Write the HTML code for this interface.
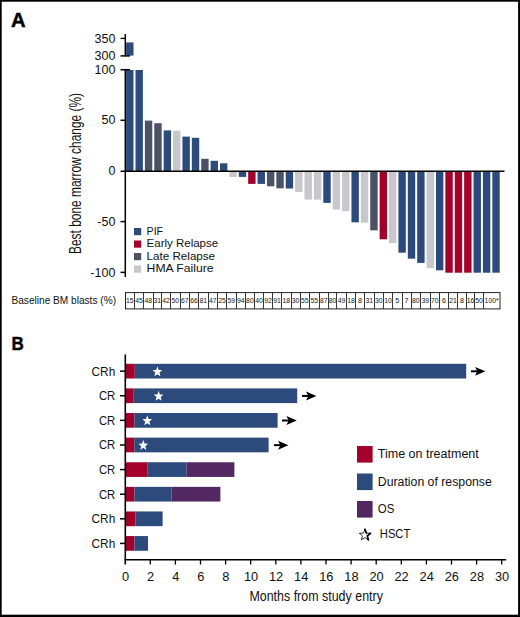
<!DOCTYPE html><html><head><meta charset="utf-8"><style>html,body{margin:0;padding:0;background:#fff}svg{display:block}text{font-family:"Liberation Sans",sans-serif;fill:#111}</style></head><body>
<svg width="520" height="617" viewBox="0 0 520 617">
<rect x="0" y="0" width="520" height="617" fill="#fff"/>
<rect x="0" y="0" width="520" height="1.7" fill="#000"/><rect x="0" y="0" width="1.7" height="617" fill="#000"/><rect x="518.1" y="0" width="1.9" height="617" fill="#000"/><rect x="0" y="614.7" width="520" height="2.3" fill="#000"/>
<text x="10.9" y="27" font-size="20.2" font-weight="bold" style="fill:#000;stroke:#000;stroke-width:0.5">A</text>
<text x="11.6" y="349.6" font-size="19.0" font-weight="bold" textLength="12.3" lengthAdjust="spacingAndGlyphs" style="fill:#000;stroke:#000;stroke-width:0.45">B</text>
<rect x="126.10" y="70.00" width="7.4" height="101.20" fill="#2c4a7c"/>
<rect x="135.49" y="70.00" width="7.4" height="101.20" fill="#2c4a7c"/>
<rect x="144.88" y="120.60" width="7.4" height="50.60" fill="#4b5266"/>
<rect x="154.27" y="123.20" width="7.4" height="48.00" fill="#4b5266"/>
<rect x="163.66" y="130.40" width="7.4" height="40.80" fill="#2c4a7c"/>
<rect x="173.05" y="130.80" width="7.4" height="40.40" fill="#c8c7cc"/>
<rect x="182.44" y="136.60" width="7.4" height="34.60" fill="#2c4a7c"/>
<rect x="191.83" y="137.80" width="7.4" height="33.40" fill="#2c4a7c"/>
<rect x="201.22" y="158.80" width="7.4" height="12.40" fill="#4b5266"/>
<rect x="210.61" y="160.80" width="7.4" height="10.40" fill="#2c4a7c"/>
<rect x="220.00" y="163.30" width="7.4" height="7.90" fill="#2c4a7c"/>
<rect x="229.39" y="171.20" width="7.4" height="5.80" fill="#c8c7cc"/>
<rect x="238.78" y="171.20" width="7.4" height="5.70" fill="#2c4a7c"/>
<rect x="248.17" y="171.20" width="7.4" height="12.70" fill="#a4002c"/>
<rect x="257.56" y="171.20" width="7.4" height="12.70" fill="#2c4a7c"/>
<rect x="266.95" y="171.20" width="7.4" height="15.10" fill="#4b5266"/>
<rect x="276.34" y="171.20" width="7.4" height="17.10" fill="#4b5266"/>
<rect x="285.73" y="171.20" width="7.4" height="17.30" fill="#2c4a7c"/>
<rect x="295.12" y="171.20" width="7.4" height="20.80" fill="#c8c7cc"/>
<rect x="304.51" y="171.20" width="7.4" height="28.40" fill="#c8c7cc"/>
<rect x="313.90" y="171.20" width="7.4" height="28.40" fill="#c8c7cc"/>
<rect x="323.29" y="171.20" width="7.4" height="31.70" fill="#2c4a7c"/>
<rect x="332.68" y="171.20" width="7.4" height="38.40" fill="#c8c7cc"/>
<rect x="342.07" y="171.20" width="7.4" height="40.00" fill="#c8c7cc"/>
<rect x="351.46" y="171.20" width="7.4" height="51.10" fill="#2c4a7c"/>
<rect x="360.85" y="171.20" width="7.4" height="51.40" fill="#c8c7cc"/>
<rect x="370.24" y="171.20" width="7.4" height="59.10" fill="#4b5266"/>
<rect x="379.63" y="171.20" width="7.4" height="68.10" fill="#a4002c"/>
<rect x="389.02" y="171.20" width="7.4" height="71.80" fill="#c8c7cc"/>
<rect x="398.41" y="171.20" width="7.4" height="81.50" fill="#2c4a7c"/>
<rect x="407.80" y="171.20" width="7.4" height="87.50" fill="#2c4a7c"/>
<rect x="417.19" y="171.20" width="7.4" height="91.70" fill="#2c4a7c"/>
<rect x="426.58" y="171.20" width="7.4" height="97.00" fill="#c8c7cc"/>
<rect x="435.97" y="171.20" width="7.4" height="99.10" fill="#2c4a7c"/>
<rect x="445.36" y="171.20" width="7.4" height="101.50" fill="#a4002c"/>
<rect x="454.75" y="171.20" width="7.4" height="101.50" fill="#a4002c"/>
<rect x="464.14" y="171.20" width="7.4" height="101.50" fill="#a4002c"/>
<rect x="473.53" y="171.20" width="7.4" height="101.50" fill="#2c4a7c"/>
<rect x="482.92" y="171.20" width="7.4" height="101.50" fill="#2c4a7c"/>
<rect x="492.31" y="171.20" width="7.4" height="101.50" fill="#2c4a7c"/>
<rect x="126.10" y="42.4" width="7.4" height="13.2" fill="#2c4a7c"/>
<g stroke="#000" stroke-width="1.5" fill="none">
<line x1="125.3" y1="34" x2="125.3" y2="56.2"/>
<line x1="120.5" y1="38.4" x2="125.3" y2="38.4" stroke-width="1.3"/>
<line x1="120.5" y1="55.9" x2="130" y2="55.9"/>
<line x1="125.3" y1="69" x2="125.3" y2="277"/>
<line x1="120.5" y1="69.7" x2="130" y2="69.7"/>
<line x1="120.5" y1="120.3" x2="125.3" y2="120.3"/>
<line x1="120.5" y1="221.6" x2="125.3" y2="221.6"/>
<line x1="120.5" y1="272.4" x2="125.3" y2="272.4"/>
<line x1="120.5" y1="171.15" x2="504.5" y2="171.15" stroke-width="1.45"/>
</g>
<text x="115.4" y="42.8" font-size="12.5" text-anchor="end">350</text>
<text x="115.4" y="59.5" font-size="12.5" text-anchor="end">300</text>
<text x="115.4" y="73.6" font-size="12.5" text-anchor="end">100</text>
<text x="115.4" y="124.4" font-size="12.5" text-anchor="end">50</text>
<text x="115.4" y="175.0" font-size="12.5" text-anchor="end">0</text>
<text x="115.4" y="225.7" font-size="12.5" text-anchor="end">-50</text>
<text x="115.4" y="276.5" font-size="12.5" text-anchor="end">-100</text>
<text transform="translate(81,254) rotate(-90)" x="0" y="0" font-size="16.5" textLength="161" lengthAdjust="spacingAndGlyphs">Best bone marrow change (%)</text>
<rect x="134" y="228.0" width="7.2" height="7.2" fill="#2c4a7c"/>
<text x="146.6" y="234.9" font-size="11.4" textLength="16.5" lengthAdjust="spacingAndGlyphs">PIF</text>
<rect x="134" y="240.5" width="7.2" height="7.2" fill="#a4002c"/>
<text x="146.6" y="247.4" font-size="11.4" textLength="71.5" lengthAdjust="spacingAndGlyphs">Early Relapse</text>
<rect x="134" y="253.0" width="7.2" height="7.2" fill="#4b5266"/>
<text x="146.6" y="259.9" font-size="11.4" textLength="68.5" lengthAdjust="spacingAndGlyphs">Late Relapse</text>
<rect x="134" y="265.5" width="7.2" height="7.2" fill="#c8c7cc"/>
<text x="146.6" y="272.4" font-size="11.4" textLength="67" lengthAdjust="spacingAndGlyphs">HMA Failure</text>
<text x="11.5" y="304.3" font-size="10.2" textLength="104.5" lengthAdjust="spacingAndGlyphs">Baseline BM blasts (%)</text>
<rect x="125.5" y="292.6" width="374.5" height="16.3" fill="none" stroke="#222" stroke-width="1"/>
<g stroke="#222" stroke-width="0.9">
<line x1="134.5" y1="292.6" x2="134.5" y2="308.9"/>
<line x1="143.5" y1="292.6" x2="143.5" y2="308.9"/>
<line x1="153.5" y1="292.6" x2="153.5" y2="308.9"/>
<line x1="161.5" y1="292.6" x2="161.5" y2="308.9"/>
<line x1="170.5" y1="292.6" x2="170.5" y2="308.9"/>
<line x1="180.5" y1="292.6" x2="180.5" y2="308.9"/>
<line x1="189.5" y1="292.6" x2="189.5" y2="308.9"/>
<line x1="198.5" y1="292.6" x2="198.5" y2="308.9"/>
<line x1="208.5" y1="292.6" x2="208.5" y2="308.9"/>
<line x1="217.5" y1="292.6" x2="217.5" y2="308.9"/>
<line x1="226.5" y1="292.6" x2="226.5" y2="308.9"/>
<line x1="236.5" y1="292.6" x2="236.5" y2="308.9"/>
<line x1="245.5" y1="292.6" x2="245.5" y2="308.9"/>
<line x1="254.5" y1="292.6" x2="254.5" y2="308.9"/>
<line x1="263.5" y1="292.6" x2="263.5" y2="308.9"/>
<line x1="272.5" y1="292.6" x2="272.5" y2="308.9"/>
<line x1="281.5" y1="292.6" x2="281.5" y2="308.9"/>
<line x1="291.5" y1="292.6" x2="291.5" y2="308.9"/>
<line x1="300.5" y1="292.6" x2="300.5" y2="308.9"/>
<line x1="309.5" y1="292.6" x2="309.5" y2="308.9"/>
<line x1="319.5" y1="292.6" x2="319.5" y2="308.9"/>
<line x1="328.5" y1="292.6" x2="328.5" y2="308.9"/>
<line x1="336.5" y1="292.6" x2="336.5" y2="308.9"/>
<line x1="346.5" y1="292.6" x2="346.5" y2="308.9"/>
<line x1="355.5" y1="292.6" x2="355.5" y2="308.9"/>
<line x1="364.5" y1="292.6" x2="364.5" y2="308.9"/>
<line x1="374.5" y1="292.6" x2="374.5" y2="308.9"/>
<line x1="383.5" y1="292.6" x2="383.5" y2="308.9"/>
<line x1="392.5" y1="292.6" x2="392.5" y2="308.9"/>
<line x1="402.5" y1="292.6" x2="402.5" y2="308.9"/>
<line x1="411.5" y1="292.6" x2="411.5" y2="308.9"/>
<line x1="420.5" y1="292.6" x2="420.5" y2="308.9"/>
<line x1="430.5" y1="292.6" x2="430.5" y2="308.9"/>
<line x1="439.5" y1="292.6" x2="439.5" y2="308.9"/>
<line x1="448.5" y1="292.6" x2="448.5" y2="308.9"/>
<line x1="457.5" y1="292.6" x2="457.5" y2="308.9"/>
<line x1="466.5" y1="292.6" x2="466.5" y2="308.9"/>
<line x1="474.5" y1="292.6" x2="474.5" y2="308.9"/>
<line x1="483.5" y1="292.6" x2="483.5" y2="308.9"/>
</g>
<text x="129.7" y="303.4" font-size="8" text-anchor="middle" textLength="7.6" lengthAdjust="spacingAndGlyphs">15</text>
<text x="139.0" y="303.4" font-size="8" text-anchor="middle" textLength="7.6" lengthAdjust="spacingAndGlyphs">45</text>
<text x="148.3" y="303.4" font-size="8" text-anchor="middle" textLength="7.6" lengthAdjust="spacingAndGlyphs">48</text>
<text x="157.3" y="303.4" font-size="8" text-anchor="middle" textLength="7.6" lengthAdjust="spacingAndGlyphs">31</text>
<text x="166.1" y="303.4" font-size="8" text-anchor="middle" textLength="7.6" lengthAdjust="spacingAndGlyphs">42</text>
<text x="175.3" y="303.4" font-size="8" text-anchor="middle" textLength="7.6" lengthAdjust="spacingAndGlyphs">50</text>
<text x="184.7" y="303.4" font-size="8" text-anchor="middle" textLength="7.6" lengthAdjust="spacingAndGlyphs">67</text>
<text x="194.0" y="303.4" font-size="8" text-anchor="middle" textLength="7.6" lengthAdjust="spacingAndGlyphs">66</text>
<text x="203.3" y="303.4" font-size="8" text-anchor="middle" textLength="7.6" lengthAdjust="spacingAndGlyphs">81</text>
<text x="212.7" y="303.4" font-size="8" text-anchor="middle" textLength="7.6" lengthAdjust="spacingAndGlyphs">47</text>
<text x="222.0" y="303.4" font-size="8" text-anchor="middle" textLength="7.6" lengthAdjust="spacingAndGlyphs">25</text>
<text x="231.3" y="303.4" font-size="8" text-anchor="middle" textLength="7.6" lengthAdjust="spacingAndGlyphs">59</text>
<text x="240.7" y="303.4" font-size="8" text-anchor="middle" textLength="7.6" lengthAdjust="spacingAndGlyphs">94</text>
<text x="249.9" y="303.4" font-size="8" text-anchor="middle" textLength="7.6" lengthAdjust="spacingAndGlyphs">80</text>
<text x="259.0" y="303.4" font-size="8" text-anchor="middle" textLength="7.6" lengthAdjust="spacingAndGlyphs">40</text>
<text x="268.0" y="303.4" font-size="8" text-anchor="middle" textLength="7.6" lengthAdjust="spacingAndGlyphs">92</text>
<text x="277.0" y="303.4" font-size="8" text-anchor="middle" textLength="7.6" lengthAdjust="spacingAndGlyphs">91</text>
<text x="286.3" y="303.4" font-size="8" text-anchor="middle" textLength="7.6" lengthAdjust="spacingAndGlyphs">18</text>
<text x="295.5" y="303.4" font-size="8" text-anchor="middle" textLength="7.6" lengthAdjust="spacingAndGlyphs">30</text>
<text x="304.7" y="303.4" font-size="8" text-anchor="middle" textLength="7.6" lengthAdjust="spacingAndGlyphs">55</text>
<text x="314.2" y="303.4" font-size="8" text-anchor="middle" textLength="7.6" lengthAdjust="spacingAndGlyphs">55</text>
<text x="323.8" y="303.4" font-size="8" text-anchor="middle" textLength="7.6" lengthAdjust="spacingAndGlyphs">87</text>
<text x="332.6" y="303.4" font-size="8" text-anchor="middle" textLength="7.6" lengthAdjust="spacingAndGlyphs">80</text>
<text x="341.5" y="303.4" font-size="8" text-anchor="middle" textLength="7.6" lengthAdjust="spacingAndGlyphs">49</text>
<text x="351.0" y="303.4" font-size="8" text-anchor="middle" textLength="7.6" lengthAdjust="spacingAndGlyphs">18</text>
<text x="360.1" y="303.4" font-size="8" text-anchor="middle" textLength="4.0" lengthAdjust="spacingAndGlyphs">8</text>
<text x="369.3" y="303.4" font-size="8" text-anchor="middle" textLength="7.6" lengthAdjust="spacingAndGlyphs">31</text>
<text x="378.7" y="303.4" font-size="8" text-anchor="middle" textLength="7.6" lengthAdjust="spacingAndGlyphs">30</text>
<text x="388.0" y="303.4" font-size="8" text-anchor="middle" textLength="7.6" lengthAdjust="spacingAndGlyphs">10</text>
<text x="397.3" y="303.4" font-size="8" text-anchor="middle" textLength="4.0" lengthAdjust="spacingAndGlyphs">5</text>
<text x="406.5" y="303.4" font-size="8" text-anchor="middle" textLength="4.0" lengthAdjust="spacingAndGlyphs">7</text>
<text x="415.7" y="303.4" font-size="8" text-anchor="middle" textLength="7.6" lengthAdjust="spacingAndGlyphs">80</text>
<text x="425.2" y="303.4" font-size="8" text-anchor="middle" textLength="7.6" lengthAdjust="spacingAndGlyphs">39</text>
<text x="434.7" y="303.4" font-size="8" text-anchor="middle" textLength="7.6" lengthAdjust="spacingAndGlyphs">70</text>
<text x="444.0" y="303.4" font-size="8" text-anchor="middle" textLength="4.0" lengthAdjust="spacingAndGlyphs">6</text>
<text x="453.1" y="303.4" font-size="8" text-anchor="middle" textLength="7.6" lengthAdjust="spacingAndGlyphs">21</text>
<text x="462.0" y="303.4" font-size="8" text-anchor="middle" textLength="4.0" lengthAdjust="spacingAndGlyphs">8</text>
<text x="470.5" y="303.4" font-size="8" text-anchor="middle" textLength="7.6" lengthAdjust="spacingAndGlyphs">16</text>
<text x="479.1" y="303.4" font-size="8" text-anchor="middle" textLength="7.6" lengthAdjust="spacingAndGlyphs">50</text>
<text x="491.6" y="303.4" font-size="8" text-anchor="middle" textLength="14" lengthAdjust="spacingAndGlyphs">100*</text>
<rect x="126.00" y="363.80" width="8.80" height="14.7" fill="#a4002c"/>
<rect x="134.80" y="363.80" width="331.40" height="14.7" fill="#2c4a7c"/>
<polygon points="157.40,366.30 158.68,369.90 162.26,370.10 159.48,372.53 160.41,376.25 157.40,374.15 154.39,376.25 155.32,372.53 152.54,370.10 156.12,369.90" fill="#fff"/>
<line x1="471" y1="371.30" x2="478" y2="371.30" stroke="#000" stroke-width="2"/>
<polygon points="485.4,371.30 475,366.90 477.4,371.30 475,375.80" fill="#000"/>
<line x1="120" y1="371.15" x2="125.3" y2="371.15" stroke="#000" stroke-width="1.5"/>
<text x="115.2" y="375.65" font-size="13.5" text-anchor="end" textLength="23.6" lengthAdjust="spacingAndGlyphs">CRh</text>
<rect x="126.00" y="388.41" width="7.70" height="14.7" fill="#a4002c"/>
<rect x="133.70" y="388.41" width="163.50" height="14.7" fill="#2c4a7c"/>
<polygon points="158.60,390.80 159.88,394.40 163.46,394.60 160.68,397.03 161.61,400.75 158.60,398.65 155.59,400.75 156.52,397.03 153.74,394.60 157.32,394.40" fill="#fff"/>
<line x1="302" y1="395.91" x2="309" y2="395.91" stroke="#000" stroke-width="2"/>
<polygon points="316.4,395.91 306,391.51 308.4,395.91 306,400.41" fill="#000"/>
<line x1="120" y1="395.76" x2="125.3" y2="395.76" stroke="#000" stroke-width="1.5"/>
<text x="115.2" y="400.26" font-size="13.5" text-anchor="end" textLength="16.3" lengthAdjust="spacingAndGlyphs">CR</text>
<rect x="126.00" y="413.02" width="8.30" height="14.7" fill="#a4002c"/>
<rect x="134.30" y="413.02" width="143.30" height="14.7" fill="#2c4a7c"/>
<polygon points="147.30,415.30 148.58,418.90 152.16,419.10 149.38,421.53 150.31,425.25 147.30,423.15 144.29,425.25 145.22,421.53 142.44,419.10 146.02,418.90" fill="#fff"/>
<line x1="282" y1="420.52" x2="289.4" y2="420.52" stroke="#000" stroke-width="2"/>
<polygon points="296.79999999999995,420.52 286.4,416.12 288.79999999999995,420.52 286.4,425.02" fill="#000"/>
<line x1="120" y1="420.37" x2="125.3" y2="420.37" stroke="#000" stroke-width="1.5"/>
<text x="115.2" y="424.87" font-size="13.5" text-anchor="end" textLength="16.3" lengthAdjust="spacingAndGlyphs">CR</text>
<rect x="126.00" y="437.63" width="8.30" height="14.7" fill="#a4002c"/>
<rect x="134.30" y="437.63" width="134.30" height="14.7" fill="#2c4a7c"/>
<polygon points="143.30,440.00 144.58,443.60 148.16,443.80 145.38,446.23 146.31,449.95 143.30,447.85 140.29,449.95 141.22,446.23 138.44,443.80 142.02,443.60" fill="#fff"/>
<line x1="274" y1="445.13" x2="281" y2="445.13" stroke="#000" stroke-width="2"/>
<polygon points="288.4,445.13 278,440.73 280.4,445.13 278,449.63" fill="#000"/>
<line x1="120" y1="444.98" x2="125.3" y2="444.98" stroke="#000" stroke-width="1.5"/>
<text x="115.2" y="449.48" font-size="13.5" text-anchor="end" textLength="16.3" lengthAdjust="spacingAndGlyphs">CR</text>
<rect x="126.00" y="462.24" width="21.20" height="14.7" fill="#a4002c"/>
<rect x="147.20" y="462.24" width="39.20" height="14.7" fill="#2c4a7c"/>
<rect x="186.40" y="462.24" width="48.00" height="14.7" fill="#532862"/>
<line x1="120" y1="469.59" x2="125.3" y2="469.59" stroke="#000" stroke-width="1.5"/>
<text x="115.2" y="474.09" font-size="13.5" text-anchor="end" textLength="16.3" lengthAdjust="spacingAndGlyphs">CR</text>
<rect x="126.00" y="486.85" width="8.40" height="14.7" fill="#a4002c"/>
<rect x="134.40" y="486.85" width="37.00" height="14.7" fill="#2c4a7c"/>
<rect x="171.40" y="486.85" width="49.00" height="14.7" fill="#532862"/>
<line x1="120" y1="494.20" x2="125.3" y2="494.20" stroke="#000" stroke-width="1.5"/>
<text x="115.2" y="498.70" font-size="13.5" text-anchor="end" textLength="16.3" lengthAdjust="spacingAndGlyphs">CR</text>
<rect x="126.00" y="511.46" width="9.40" height="14.7" fill="#a4002c"/>
<rect x="135.40" y="511.46" width="27.20" height="14.7" fill="#2c4a7c"/>
<line x1="120" y1="518.81" x2="125.3" y2="518.81" stroke="#000" stroke-width="1.5"/>
<text x="115.2" y="523.31" font-size="13.5" text-anchor="end" textLength="23.6" lengthAdjust="spacingAndGlyphs">CRh</text>
<rect x="126.00" y="536.07" width="8.40" height="14.7" fill="#a4002c"/>
<rect x="134.40" y="536.07" width="13.60" height="14.7" fill="#2c4a7c"/>
<line x1="120" y1="543.42" x2="125.3" y2="543.42" stroke="#000" stroke-width="1.5"/>
<text x="115.2" y="547.92" font-size="13.5" text-anchor="end" textLength="23.6" lengthAdjust="spacingAndGlyphs">CRh</text>
<g stroke="#000" stroke-width="1.6" fill="none">
<line x1="125.3" y1="354.5" x2="125.3" y2="564.5"/>
<line x1="124.5" y1="559.7" x2="506.2" y2="559.7"/>
<line x1="150.30" y1="559.7" x2="150.30" y2="564.6" stroke-width="1.3"/>
<line x1="175.40" y1="559.7" x2="175.40" y2="564.6" stroke-width="1.3"/>
<line x1="200.50" y1="559.7" x2="200.50" y2="564.6" stroke-width="1.3"/>
<line x1="225.60" y1="559.7" x2="225.60" y2="564.6" stroke-width="1.3"/>
<line x1="250.70" y1="559.7" x2="250.70" y2="564.6" stroke-width="1.3"/>
<line x1="275.80" y1="559.7" x2="275.80" y2="564.6" stroke-width="1.3"/>
<line x1="300.90" y1="559.7" x2="300.90" y2="564.6" stroke-width="1.3"/>
<line x1="326.00" y1="559.7" x2="326.00" y2="564.6" stroke-width="1.3"/>
<line x1="351.10" y1="559.7" x2="351.10" y2="564.6" stroke-width="1.3"/>
<line x1="376.20" y1="559.7" x2="376.20" y2="564.6" stroke-width="1.3"/>
<line x1="401.30" y1="559.7" x2="401.30" y2="564.6" stroke-width="1.3"/>
<line x1="426.40" y1="559.7" x2="426.40" y2="564.6" stroke-width="1.3"/>
<line x1="451.50" y1="559.7" x2="451.50" y2="564.6" stroke-width="1.3"/>
<line x1="476.60" y1="559.7" x2="476.60" y2="564.6" stroke-width="1.3"/>
<line x1="501.70" y1="559.7" x2="501.70" y2="564.6" stroke-width="1.3"/>
</g>
<text x="125.50" y="580.8" font-size="12.8" text-anchor="middle">0</text>
<text x="150.60" y="580.8" font-size="12.8" text-anchor="middle">2</text>
<text x="175.70" y="580.8" font-size="12.8" text-anchor="middle">4</text>
<text x="200.80" y="580.8" font-size="12.8" text-anchor="middle">6</text>
<text x="225.90" y="580.8" font-size="12.8" text-anchor="middle">8</text>
<text x="251.00" y="580.8" font-size="12.8" text-anchor="middle">10</text>
<text x="276.10" y="580.8" font-size="12.8" text-anchor="middle">12</text>
<text x="301.20" y="580.8" font-size="12.8" text-anchor="middle">14</text>
<text x="326.30" y="580.8" font-size="12.8" text-anchor="middle">16</text>
<text x="351.40" y="580.8" font-size="12.8" text-anchor="middle">18</text>
<text x="376.50" y="580.8" font-size="12.8" text-anchor="middle">20</text>
<text x="401.60" y="580.8" font-size="12.8" text-anchor="middle">22</text>
<text x="426.70" y="580.8" font-size="12.8" text-anchor="middle">24</text>
<text x="451.80" y="580.8" font-size="12.8" text-anchor="middle">26</text>
<text x="476.90" y="580.8" font-size="12.8" text-anchor="middle">28</text>
<text x="502.00" y="580.8" font-size="12.8" text-anchor="middle">30</text>
<text x="249.4" y="601.4" font-size="14.6" textLength="133.5" lengthAdjust="spacingAndGlyphs">Months from study entry</text>
<rect x="357" y="446.0" width="15.6" height="16.6" fill="#a4002c"/>
<text x="377.8" y="458.0" font-size="12" textLength="101" lengthAdjust="spacingAndGlyphs">Time on treatment</text>
<rect x="357" y="473.5" width="15.6" height="16.6" fill="#2c4a7c"/>
<text x="377.8" y="485.5" font-size="12" textLength="114" lengthAdjust="spacingAndGlyphs">Duration of response</text>
<rect x="357" y="501.0" width="15.6" height="16.6" fill="#532862"/>
<text x="377.8" y="513.0" font-size="12" textLength="16.5" lengthAdjust="spacingAndGlyphs">OS</text>
<polygon points="364.90,529.20 366.37,533.08 370.51,533.28 367.28,535.87 368.37,539.87 364.90,537.60 361.43,539.87 362.52,535.87 359.29,533.28 363.43,533.08" fill="#fff" stroke="#000" stroke-width="0.8" stroke-linejoin="round"/>
<polyline points="364.90,529.20 366.37,533.08" fill="none" stroke="#000" stroke-width="1.7" stroke-linecap="round"/>
<polyline points="370.51,533.28 367.28,535.87 368.37,539.87" fill="none" stroke="#000" stroke-width="1.7" stroke-linecap="round" stroke-linejoin="round"/>
<text x="379.8" y="537.6" font-size="12" textLength="30.5" lengthAdjust="spacingAndGlyphs">HSCT</text>
</svg></body></html>
